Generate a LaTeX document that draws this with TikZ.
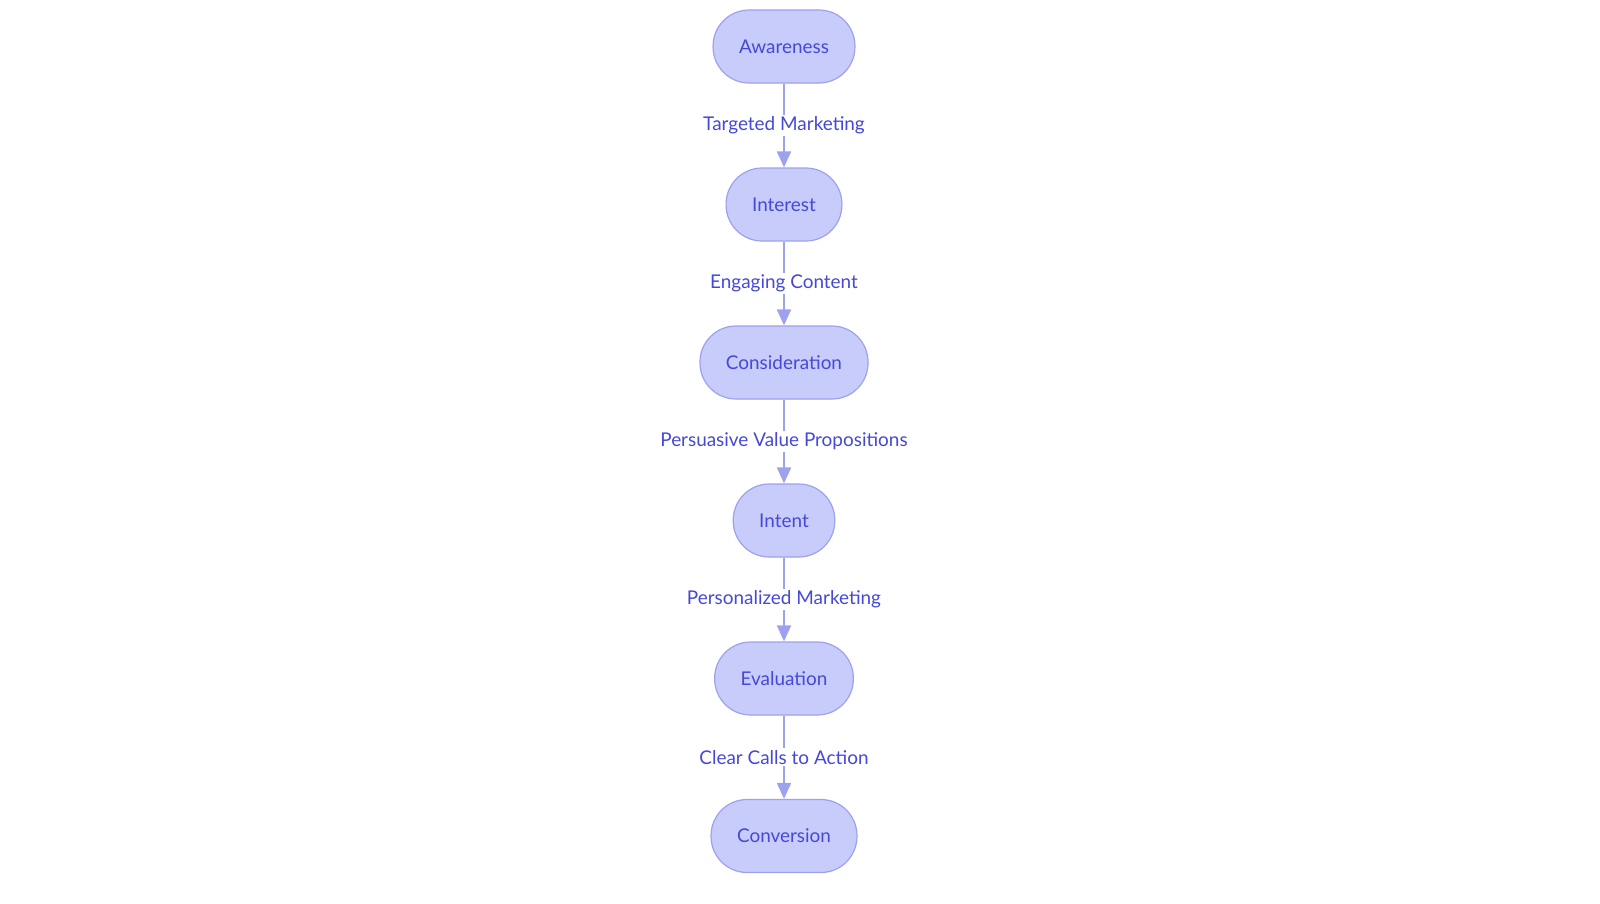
\documentclass[tikz,border=0pt]{standalone}
\usepackage{fontspec}
\setmainfont{Lato}
\usetikzlibrary{arrows.meta}
\definecolor{nodefill}{HTML}{C8CCFA}
\definecolor{nodeborder}{HTML}{9DA1EE}
\definecolor{textblue}{HTML}{4548D8}
\definecolor{edgecol}{HTML}{9DA1EE}
\begin{document}
\begin{tikzpicture}[x=1bp,y=-1bp,
  stage/.style={draw=nodeborder, line width=1.2bp, fill=nodefill, rounded corners=36bp,
    minimum height=73bp, inner xsep=26bp, inner ysep=0pt, text=textblue,
    font=\fontsize{19}{22}\selectfont},
  flow/.style={draw=edgecol, line width=2bp, -{Triangle[length=16bp,width=14bp]}},
  lbl/.style={fill=white, text=textblue, inner xsep=1bp, inner ysep=2bp,
    font=\fontsize{19}{22}\selectfont}
]
\useasboundingbox (0,0) rectangle (1600,903);
\node[stage] (aw) at (784,46.5) {Awareness};
\node[stage] (in) at (784,204.5) {Interest};
\node[stage] (co) at (784,362.5) {Consideration};
\node[stage] (it) at (784,520.5) {Intent};
\node[stage] (ev) at (784,678.5) {Evaluation};
\node[stage] (cv) at (784,836) {Conversion};
\draw[flow] (aw) -- node[lbl] {Targeted Marketing} (in);
\draw[flow] (in) -- node[lbl] {Engaging Content} (co);
\draw[flow] (co) -- node[lbl] {Persuasive Value Propositions} (it);
\draw[flow] (it) -- node[lbl] {Personalized Marketing} (ev);
\draw[flow] (ev) -- node[lbl] {Clear Calls to Action} (cv);
\end{tikzpicture}
\end{document}
